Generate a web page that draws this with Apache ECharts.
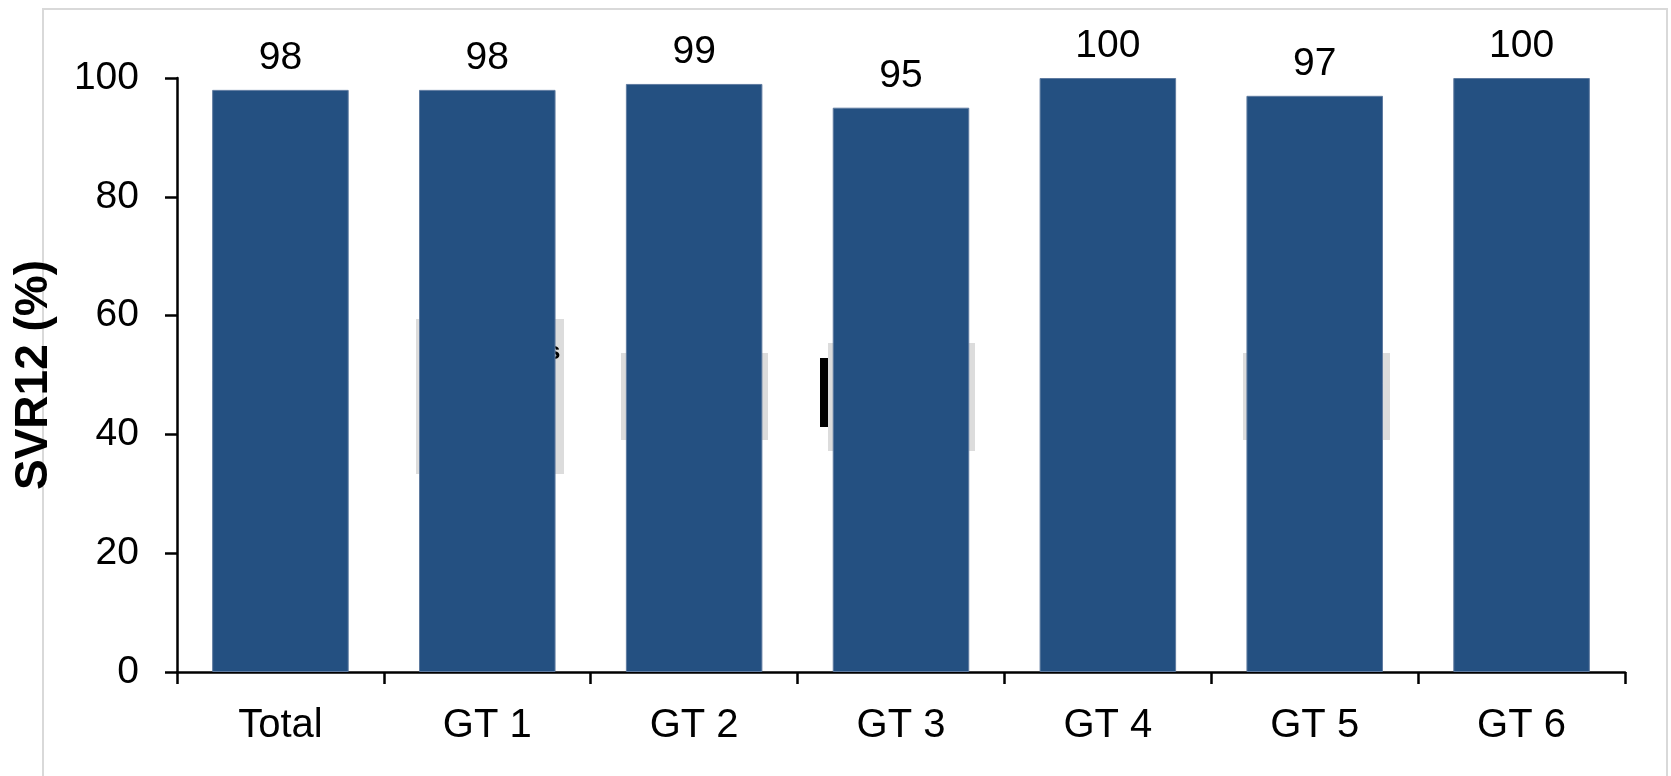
<!DOCTYPE html>
<html>
<head>
<meta charset="utf-8">
<style>
  html, body { margin: 0; padding: 0; background: #fff; }
  #chart { width: 1671px; height: 776px; }
</style>
<script src="https://cdn.jsdelivr.net/npm/echarts@6/dist/echarts.min.js"></script>
</head>
<body>
<div id="chart"></div>
<script>
// SVR12 rates by genotype
const categories = ['Total', 'GT 1', 'GT 2', 'GT 3', 'GT 4', 'GT 5', 'GT 6'];
const svr12 = [98, 98, 99, 95, 100, 97, 100];
const yTicks = [0, 20, 40, 60, 80, 100];

const FONT = '"Liberation Sans", Arial, Helvetica, sans-serif';
const chart = echarts.init(document.getElementById('chart'), null, { renderer: 'canvas' });

chart.setOption({
  backgroundColor: '#ffffff',
  animation: false,
  grid: { left: 177, right: 46, top: 78, bottom: 104, containLabel: false, outerBoundsMode: 'none' },
  graphic: [
    // frame
    { type: 'rect', z: -10, shape: { x: 43, y: 9, width: 1624, height: 820 },
      style: { fill: 'none', stroke: '#d9d9d9', lineWidth: 2 } },
    // faint panels behind some bars
    { type: 'rect', z: -5, shape: { x: 416, y: 319, width: 148, height: 155 }, style: { fill: '#dcdcdc' } },
    { type: 'rect', z: -5, shape: { x: 621, y: 353, width: 147, height: 87 }, style: { fill: '#dcdcdc' } },
    { type: 'rect', z: -5, shape: { x: 828, y: 343, width: 147, height: 108 }, style: { fill: '#dcdcdc' } },
    { type: 'rect', z: -5, shape: { x: 1243, y: 353, width: 147, height: 87 }, style: { fill: '#dcdcdc' } },
    { type: 'rect', z: -4, shape: { x: 820, y: 358, width: 8, height: 69 }, style: { fill: '#000000' } },
    { type: 'text', z: -4, x: 547, y: 340,
      style: { text: 's', fill: '#000', font: 'bold 24px ' + FONT } }
  ],
  xAxis: {
    type: 'category',
    data: categories,
    boundaryGap: true,
    axisLine: { show: true, lineStyle: { color: '#000', width: 2.5 } },
    axisTick: { show: true, length: 12, inside: false, alignWithLabel: false,
      lineStyle: { color: '#000', width: 2.5 } },
    axisLabel: { color: '#000', fontSize: 40, fontFamily: FONT, margin: 34 },
    splitLine: { show: false }
  },
  yAxis: {
    type: 'value',
    min: 0,
    max: 100,
    interval: 20,
    name: 'SVR12 (%)',
    nameLocation: 'middle',
    nameGap: 120,
    nameRotate: 90,
    nameTextStyle: { color: '#000', fontSize: 46, fontWeight: 'bold', fontFamily: FONT },
    axisLine: { show: true, lineStyle: { color: '#000', width: 2.5 } },
    axisTick: { show: true, length: 12, inside: false, lineStyle: { color: '#000', width: 2.5 } },
    axisLabel: {
      color: '#000', fontSize: 39, fontFamily: FONT, margin: 38,
      formatter: v => (yTicks.indexOf(v) >= 0 ? String(v) : '')
    },
    splitLine: { show: false }
  },
  series: [{
    type: 'bar',
    data: svr12,
    barCategoryGap: '34%',
    itemStyle: { color: '#245081', borderColor: '#5f7ba0', borderWidth: 1 },
    label: {
      show: true, position: 'top', distance: 12,
      color: '#000', fontSize: 39, fontFamily: FONT
    }
  }]
});
</script>
</body>
</html>
